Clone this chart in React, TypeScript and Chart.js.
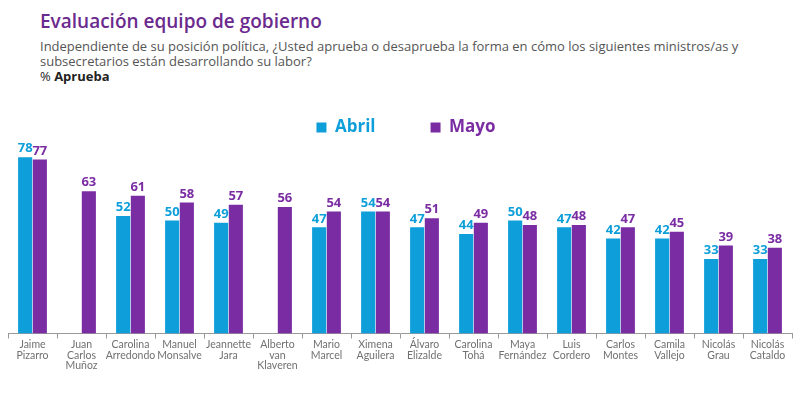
import React, { useEffect, useRef } from "react";
import { Chart, registerables } from "chart.js";

Chart.register(...registerables);

const categories: string[][] = [
  ["Jaime", "Pizarro"],
  ["Juan", "Carlos", "Muñoz"],
  ["Carolina", "Arredondo"],
  ["Manuel", "Monsalve"],
  ["Jeannette", "Jara"],
  ["Alberto", "van", "Klaveren"],
  ["Mario", "Marcel"],
  ["Ximena", "Aguilera"],
  ["Álvaro", "Elizalde"],
  ["Carolina", "Tohá"],
  ["Maya", "Fernández"],
  ["Luis", "Cordero"],
  ["Carlos", "Montes"],
  ["Camila", "Vallejo"],
  ["Nicolás", "Grau"],
  ["Nicolás", "Cataldo"],
];
const abril: (number | null)[] = [78, null, 52, 50, 49, null, 47, 54, 47, 44, 50, 47, 42, 42, 33, 33];
const mayo: number[] = [77, 63, 61, 58, 57, 56, 54, 54, 51, 49, 48, 48, 47, 45, 39, 38];
const seriesNames = ["Abril", "Mayo"];

const BLUE = "#0E9FDA";
const PURPLE = "#7A2DA3";

const valueLabels = {
  id: "valueLabels",
  afterDatasetsDraw(chart: any) {
    const ctx = chart.ctx;
    ctx.save();
    ctx.font = "bold 13px 'Open Sans', sans-serif";
    ctx.textAlign = "center";
    ctx.textBaseline = "bottom";
    chart.data.datasets.forEach((ds: any, i: number) => {
      const meta = chart.getDatasetMeta(i);
      ctx.fillStyle = ds.backgroundColor;
      meta.data.forEach((bar: any, j: number) => {
        const v = ds.data[j];
        if (v === null || v === undefined) return;
        ctx.fillText(String(v), bar.x, bar.y - 2);
      });
    });
    ctx.restore();
  },
};

const legendShift = {
  id: "legendShift",
  afterLayout(chart: any) {
    if (chart.legend) {
      chart.legend.left += 6;
      chart.legend.right += 6;
    }
  },
};

const CANVAS_TOP = 64;
const CANVAS_H = 397 - CANVAS_TOP;

export default function App() {
  const ref = useRef<HTMLCanvasElement>(null);
  useEffect(() => {
    if (!ref.current) return;
    const chart = new Chart(ref.current, {
      type: "bar",
      data: {
        labels: categories,
        datasets: [
          { label: seriesNames[0], data: abril, backgroundColor: BLUE, borderWidth: 0 },
          { label: seriesNames[1], data: mayo, backgroundColor: PURPLE, borderWidth: 0 },
        ],
      },
      options: {
        animation: false,
        responsive: false,
        maintainAspectRatio: false,
        layout: { padding: { left: 8, right: 8, top: 0, bottom: 25 } },
        datasets: { bar: { categoryPercentage: 0.6, barPercentage: 0.96 } },
        plugins: {
          tooltip: { enabled: false },
          legend: {
            display: true,
            position: "top",
            labels: {
              boxWidth: 10,
              boxHeight: 10,
              padding: 55,
              font: { size: 17, weight: "bold", family: "'Open Sans', sans-serif" },
              generateLabels: (c: any) =>
                c.data.datasets.map((ds: any, i: number) => ({
                  text: ds.label,
                  fillStyle: ds.backgroundColor,
                  strokeStyle: ds.backgroundColor,
                  lineWidth: 0,
                  fontColor: ds.backgroundColor,
                  datasetIndex: i,
                  hidden: false,
                })),
            },
          },
        },
        scales: {
          x: {
            grid: { display: true, drawOnChartArea: false, drawTicks: true, tickLength: 5, color: "#999", offset: true },
            border: { display: true, color: "#999", width: 1 },
            ticks: {
              color: "#707070",
              font: { size: 10.5, family: "Lato, sans-serif", lineHeight: 1.0 },
              maxRotation: 0,
              autoSkip: false,
              padding: 1,
            },
          },
          y: {
            display: false,
            min: 0,
            max: 83,
          },
        },
      },
      plugins: [valueLabels, legendShift],
    });
    return () => chart.destroy();
  }, []);

  return (
    <div style={{ position: "absolute", left: 0, top: 0, width: 800, height: 397, background: "#fff", overflow: "hidden" }}>
      <div
        style={{
          position: "absolute",
          left: 40,
          top: 8,
          fontFamily: "'Open Sans', sans-serif",
          fontWeight: 600,
          fontSize: 19,
          color: "#6B2A8E",
        }}
      >
        Evaluación equipo de gobierno
      </div>
      <div
        style={{
          position: "absolute",
          left: 40,
          top: 39,
          width: 740,
          fontFamily: "'Open Sans', sans-serif",
          fontSize: 13,
          lineHeight: "15px",
          color: "#555",
        }}
      >
        Independiente de su posición política, ¿Usted aprueba o desaprueba la forma en cómo los siguientes ministros/as y
        <br />
        subsecretarios están desarrollando su labor?
        <br />
        <span style={{ color: "#222" }}>% </span>
        <span style={{ color: "#222", fontWeight: 700 }}>Aprueba</span>
      </div>
      <canvas
        ref={ref}
        width={800}
        height={CANVAS_H}
        style={{ position: "absolute", left: 0, top: CANVAS_TOP, width: 800, height: CANVAS_H }}
      />
    </div>
  );
}
